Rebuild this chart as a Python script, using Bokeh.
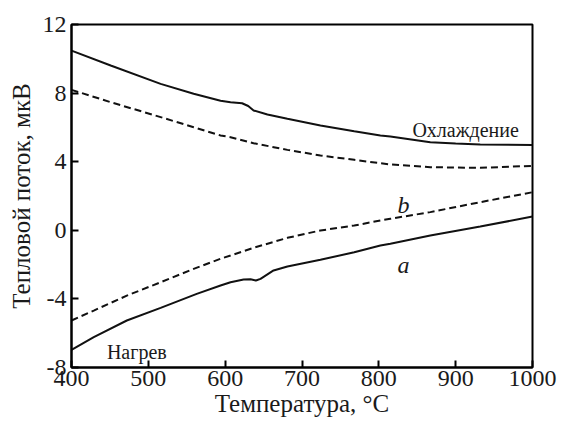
from bokeh.plotting import figure
from bokeh.models import FixedTicker, Label
from bokeh.embed import file_html
from bokeh.resources import INLINE

# ---- data ----
cool_solid_x = [400, 451, 516, 559, 594, 607, 622, 630, 637, 655, 681, 724, 768, 802, 815, 867, 900, 932, 1000]
cool_solid_y = [10.48, 9.61, 8.54, 7.96, 7.55, 7.47, 7.41, 7.25, 6.99, 6.75, 6.50, 6.11, 5.78, 5.53, 5.47, 5.14, 5.06, 5.00, 4.98]

cool_dash_x = [400, 451, 516, 559, 594, 607, 637, 681, 724, 768, 802, 815, 867, 932, 1000]
cool_dash_y = [8.19, 7.47, 6.60, 6.01, 5.53, 5.43, 5.08, 4.69, 4.36, 4.11, 3.91, 3.84, 3.68, 3.64, 3.76]

heat_dash_x = [400, 429, 472, 516, 559, 594, 607, 637, 681, 724, 768, 802, 815, 867, 932, 1000]
heat_dash_y = [-5.26, -4.68, -3.81, -3.03, -2.25, -1.66, -1.47, -1.02, -0.44, -0.01, 0.28, 0.57, 0.67, 1.06, 1.64, 2.22]

heat_solid_x = [400, 429, 472, 516, 563, 594, 607, 624, 633, 640, 646, 663, 681, 724, 768, 802, 815, 867, 932, 1000]
heat_solid_y = [-6.97, -6.23, -5.26, -4.52, -3.71, -3.22, -3.03, -2.87, -2.86, -2.93, -2.83, -2.34, -2.11, -1.72, -1.28, -0.89, -0.79, -0.30, 0.22, 0.80]

x_ticks = [400, 500, 600, 700, 800, 900, 1000]
y_ticks = [-8, -4, 0, 4, 8, 12]
y_tick_labels = ["-8", "-4", "0", "4", "8", "12"]

x_title = "Температура, °С"
y_title = "Тепловой поток, мкВ"

labels_text = ["Охлаждение", "Нагрев"]
labels_x = [913, 485]
labels_y = [5.82, -7.11]
letters_text = ["b", "a"]
letters_x = [832, 832]
letters_y = [1.45, -2.0]

FONT = "Liberation Serif"
TXT = "#1a1a1a"

p = figure(width=564, height=428, x_range=(400, 1000), y_range=(-8, 12),
           output_backend="svg", toolbar_location=None,
           min_border_left=71, min_border_right=32, min_border_top=24, min_border_bottom=61)

p.background_fill_color = "white"
p.border_fill_color = "white"
p.outline_line_color = "black"
p.outline_line_width = 2
p.xgrid.visible = False
p.ygrid.visible = False

for ax in (p.xaxis[0], p.yaxis[0]):
    ax.axis_line_color = "black"
    ax.axis_line_width = 2
    ax.major_tick_in = 7
    ax.major_tick_out = 0
    ax.major_tick_line_width = 2
    ax.major_tick_line_color = "black"
    ax.minor_tick_line_color = None
    ax.major_label_text_font = FONT
    ax.major_label_text_font_size = "24px"
    ax.major_label_text_color = TXT
    ax.axis_label_text_font = FONT
    ax.axis_label_text_font_size = "25px"
    ax.axis_label_text_font_style = "normal"
    ax.axis_label_text_color = TXT

p.xaxis.ticker = FixedTicker(ticks=x_ticks)
p.yaxis.ticker = FixedTicker(ticks=y_ticks)
p.yaxis.major_label_overrides = {t: s for t, s in zip(y_ticks, y_tick_labels)}
p.xaxis.major_label_standoff = 3
p.yaxis.major_label_standoff = 5
p.xaxis.axis_label_standoff = 1
p.yaxis.axis_label_standoff = 5
p.xaxis.axis_label = x_title
p.yaxis.axis_label = y_title

p.line(cool_solid_x, cool_solid_y, line_color="#111111", line_width=2)
p.line(cool_dash_x, cool_dash_y, line_color="#111111", line_width=2, line_dash="7 4")
p.line(heat_dash_x, heat_dash_y, line_color="#111111", line_width=2, line_dash="7 4")
p.line(heat_solid_x, heat_solid_y, line_color="#111111", line_width=2)

for t, x, y in zip(labels_text, labels_x, labels_y):
    p.add_layout(Label(x=x, y=y, text=t, text_font=FONT, text_font_size="20px",
                       text_align="center", text_baseline="alphabetic", text_color=TXT))
for t, x, y in zip(letters_text, letters_x, letters_y):
    p.add_layout(Label(x=x, y=y, text=t, text_font=FONT, text_font_size="24px",
                       text_font_style="italic",
                       text_align="center", text_baseline="alphabetic", text_color=TXT))

open("out.html", "w").write(file_html(p, INLINE))
